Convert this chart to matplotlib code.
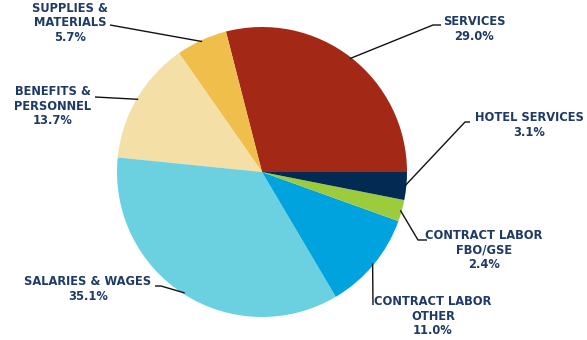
import matplotlib.pyplot as plt
import numpy as np

# expense shares, counter-clockwise from 3 o'clock
labels = ['SERVICES\n29.0%', 'SUPPLIES &\nMATERIALS\n5.7%', 'BENEFITS &\nPERSONNEL\n13.7%',
          'SALARIES & WAGES\n35.1%', 'CONTRACT LABOR\nOTHER\n11.0%',
          'CONTRACT LABOR\nFBO/GSE\n2.4%', 'HOTEL SERVICES\n3.1%']
shares = [29.0, 5.7, 13.7, 35.1, 11.0, 2.4, 3.1]
colors = ['#A42816', '#F0BE4A', '#F4E0A6', '#6BD1E1', '#00A3DE', '#9CCB3C', '#032A52']

txtcol = '#1F3A66'
W, H = 587, 340
cx, cy, R = 262, H - 172, 145

# label text centre (pixel, top-origin) and leader points from text side
txtpos = [(474, 29), (70, 23), (53, 106), (88, 289), (433, 316), (484, 250), (529, 125)]
lead = [[(441, 25), (433, 25)], [(110, 25)], [(95, 97)], [(155, 286), (161, 286)],
        [(373, 305)], [(427, 240), (418, 240)], [(470, 122), (465, 122)]]

fig = plt.figure(figsize=(W / 100, H / 100), dpi=100)
ax = fig.add_axes([0, 0, 1, 1])

wedges, _ = ax.pie(shares, colors=colors, startangle=0, counterclock=True,
                   center=(cx, cy), radius=R, frame=True,
                   wedgeprops=dict(linewidth=0))
ax.set_xlim(0, W)
ax.set_ylim(0, H)
ax.set_aspect('equal')
ax.axis('off')

for w, lab, tp, ld in zip(wedges, labels, txtpos, lead):
    mid = np.deg2rad((w.theta1 + w.theta2) / 2)
    px = cx + R * 0.99 * np.cos(mid)
    py = cy + R * 0.99 * np.sin(mid)
    xs = [p[0] for p in ld] + [px]
    ys = [H - p[1] for p in ld] + [py]
    ax.plot(xs, ys, color='#111111', lw=1.0, solid_capstyle='butt')
    ax.text(tp[0], H - tp[1], lab, ha='center', va='center', color=txtcol,
            fontsize=8.3, fontweight='bold', linespacing=1.12)

fig.savefig('out.png', dpi=100)
